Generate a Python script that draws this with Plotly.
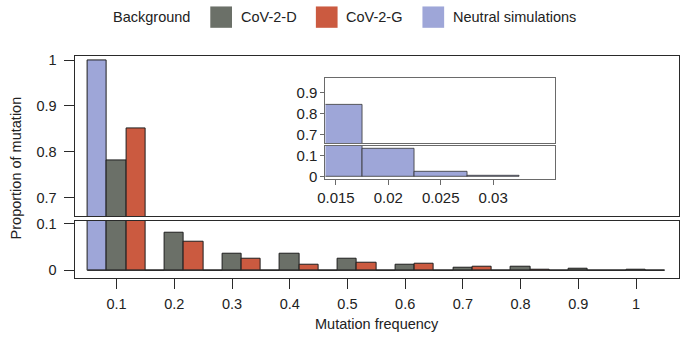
import plotly.graph_objects as go

# ---------------- data ----------------
freq_bins = [0.1, 0.2, 0.3, 0.4, 0.5, 0.6, 0.7, 0.8, 0.9, 1.0]
freq_labels = ["0.1", "0.2", "0.3", "0.4", "0.5", "0.6", "0.7", "0.8", "0.9", "1"]
neutral_vals = [1.0, 0, 0, 0, 0, 0, 0, 0, 0, 0]
cov_d_vals = [0.781, 0.080, 0.036, 0.036, 0.024, 0.012, 0.005, 0.007, 0.0042, 0.002]
cov_g_vals = [0.850, 0.062, 0.024, 0.0126, 0.017, 0.014, 0.0076, 0.0017, 0, 0]

inset_bins = [0.015, 0.02, 0.025, 0.03]
inset_labels = ["0.015", "0.02", "0.025", "0.03"]
inset_vals = [0.842, 0.132, 0.021, 0.005]

upper_ticks = [0.7, 0.8, 0.9, 1.0]
upper_ticktext = ["0.7", "0.8", "0.9", "1"]
lower_ticks = [0, 0.1]
lower_ticktext = ["0", "0.1"]

series_names = ["Neutral simulations", "CoV-2-D", "CoV-2-G"]
series_colors = ["#9ea6d8", "#6b7068", "#cb5a40"]
legend_order = ["CoV-2-D", "CoV-2-G", "Neutral simulations"]

# ---------------- geometry helpers ----------------
W, H = 680, 338
def px(x):
    return x / W
def py(y):
    return 1 - y / H

FONT = "Liberation Sans, Arial, sans-serif"
TXT = "#222222"
EDGE = "#1e1e1e"

fig = go.Figure()

series_vals = [neutral_vals, cov_d_vals, cov_g_vals]
for xa, ya in [("x", "y"), ("x2", "y2")]:
    for name, col, vals in zip(series_names, series_colors, series_vals):
        fig.add_trace(go.Bar(
            x=freq_bins, y=vals, name=name, xaxis=xa, yaxis=ya,
            marker=dict(color=col, line=dict(color=EDGE, width=1)),
            showlegend=False, hoverinfo="skip"))

for xa, ya in [("x3", "y3"), ("x4", "y4")]:
    fig.add_trace(go.Bar(
        x=inset_bins, y=inset_vals, xaxis=xa, yaxis=ya,
        marker=dict(color=series_colors[0], line=dict(color="#333333", width=0.8)),
        showlegend=False, hoverinfo="skip"))

main_xd = [px(67.5), px(679.5)]
main_xr = [0.0273, 1.0736]
inset_xd = [px(321.7), px(554.3)]
inset_xr = [0.01400, 0.03589]

axis_common = dict(showgrid=False, zeroline=False, showline=True, mirror=True,
                   linecolor="#2a2a2a", linewidth=1.2,
                   tickfont=dict(family=FONT, size=14.5, color=TXT),
                   tickcolor="#2a2a2a", tickwidth=1.2)
inset_common = dict(showgrid=False, zeroline=False, showline=True, mirror=True,
                    linecolor="#6a6a6a", linewidth=1,
                    tickfont=dict(family=FONT, size=15, color=TXT),
                    tickcolor="#6a6a6a", tickwidth=1)

fig.update_layout(
    width=W, height=H,
    margin=dict(l=0, r=0, t=0, b=0),
    paper_bgcolor="white", plot_bgcolor="white",
    barmode="group", bargap=0, bargroupgap=0,
    showlegend=False,
    xaxis=dict(axis_common, domain=main_xd, range=main_xr, anchor="y",
               showticklabels=False, ticks=""),
    yaxis=dict(axis_common, domain=[py(217.7), py(53)], range=[0.659, 1.0078],
               anchor="x", tickvals=upper_ticks, ticktext=upper_ticktext,
               ticks="outside", ticklen=10, ticklabelstandoff=4),
    xaxis2=dict(axis_common, domain=main_xd, range=main_xr, anchor="y2",
                tickvals=freq_bins, ticktext=freq_labels, ticks="outside", ticklen=10,
                ticklabelstandoff=2),
    yaxis2=dict(axis_common, domain=[py(281.7), py(222.3)], range=[-0.0176, 0.107],
                anchor="x2", tickvals=lower_ticks, ticktext=lower_ticktext,
                ticks="outside", ticklen=10, ticklabelstandoff=4),
    xaxis3=dict(inset_common, domain=inset_xd, range=inset_xr, anchor="y3",
                showticklabels=False, ticks=""),
    yaxis3=dict(inset_common, domain=[py(142.7), py(75)], range=[0.6566, 0.969],
                anchor="x3", tickvals=upper_ticks[:3], ticktext=upper_ticktext[:3],
                ticks="outside", ticklen=4),
    xaxis4=dict(inset_common, domain=inset_xd, range=inset_xr, anchor="y4",
                tickvals=inset_bins, ticktext=inset_labels, ticks="outside", ticklen=5),
    yaxis4=dict(inset_common, domain=[py(179.3), py(145)], range=[-0.013, 0.1465],
                anchor="x4", tickvals=lower_ticks, ticktext=lower_ticktext,
                ticks="outside", ticklen=4),
)

# baseline under the bars of the lower main panel
half = (freq_bins[1] - freq_bins[0]) / 2
fig.add_shape(type="line", xref="x2", yref="y2",
              x0=freq_bins[0] - half, x1=freq_bins[-1] + half, y0=0, y1=0,
              line=dict(color="#2a2a2a", width=1.2))

# axis titles
fig.add_annotation(text="Mutation frequency", xref="paper", yref="paper",
                   x=(main_xd[0] + main_xd[1]) / 2, y=py(329), showarrow=False,
                   font=dict(family=FONT, size=14.5, color=TXT),
                   xanchor="center", yanchor="middle")
fig.add_annotation(text="Proportion of mutation", xref="paper", yref="paper",
                   x=px(8), y=py(167.5), showarrow=False, textangle=-90,
                   font=dict(family=FONT, size=14.5, color=TXT),
                   xanchor="center", yanchor="middle")

# legend (manual, large swatches)
leg_y = 12.5
fig.add_annotation(text="Background", xref="paper", yref="paper",
                   x=px(104), y=py(leg_y), showarrow=False, xanchor="left",
                   yanchor="middle", font=dict(family=FONT, size=14.5, color=TXT))
sw_x = [205, 312, 420]
for name, sx in zip(legend_order, sw_x):
    col = series_colors[series_names.index(name)]
    fig.add_shape(type="rect", xref="paper", yref="paper",
                  x0=px(sx), x1=px(sx + 22), y0=py(leg_y - 11), y1=py(leg_y + 11),
                  fillcolor=col, line=dict(width=0))
    fig.add_annotation(text=name, xref="paper", yref="paper",
                       x=px(sx + 29), y=py(leg_y), showarrow=False, xanchor="left",
                       yanchor="middle", font=dict(family=FONT, size=14.5, color=TXT))

fig.write_html("out.html", config={"displayModeBar": False},
               post_script="document.body.style.margin='0';document.body.style.padding='0';")
